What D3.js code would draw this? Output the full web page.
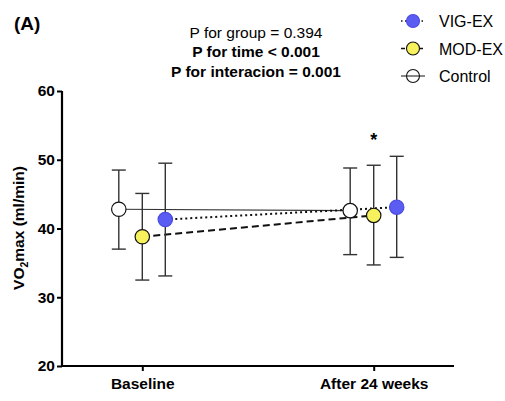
<!DOCTYPE html>
<html><head><meta charset="utf-8">
<script src="https://cdn.jsdelivr.net/npm/d3@7"></script>
<style>body{margin:0;background:#fff}svg{display:block}text{font-family:"Liberation Sans",Arial,sans-serif}</style>
</head><body><svg id="c" width="505" height="401"></svg>
<script>
const categories = ["Baseline", "After 24 weeks"];
const groups = ["Control", "MOD-EX", "VIG-EX"];
const controlMean = [42.8, 42.6];
const controlLow = [37.0, 36.2];
const controlHigh = [48.5, 48.8];
const modMean = [38.8, 41.9];
const modLow = [32.5, 34.7];
const modHigh = [45.1, 49.2];
const vigMean = [41.3, 43.1];
const vigLow = [33.1, 35.8];
const vigHigh = [49.5, 50.5];
const yTicks = [20, 30, 40, 50, 60];
const statLines = ["P for group = 0.394", "P for time < 0.001", "P for interacion = 0.001"];

const svg = d3.select("#c");
const x = d3.scalePoint().domain(categories).range([62, 454]).padding(0.347);
const y = d3.scaleLinear().domain([20, 60]).range([366, 91]);
const off = d3.scaleOrdinal().domain(groups).range([-23.5, 0, 23]);

const series = [
  {name: "Control", mean: controlMean, lo: controlLow, hi: controlHigh, fill: "#ffffff", stroke: "#111", dash: null},
  {name: "MOD-EX", mean: modMean, lo: modLow, hi: modHigh, fill: "#f6f15c", stroke: "#111", dash: "7,4"},
  {name: "VIG-EX", mean: vigMean, lo: vigLow, hi: vigHigh, fill: "#5a5cf2", stroke: "#4a4ce0", dash: "2,3"}
];

// axes
const yAxis = d3.axisLeft(y).tickValues(yTicks).tickSize(5).tickPadding(2);
const gy = svg.append("g").attr("transform", "translate(62,0)").call(yAxis);
const xAxis = d3.axisBottom(x).tickSize(5).tickPadding(7);
const gx = svg.append("g").attr("transform", "translate(0,366)").call(xAxis);
[gx, gy].forEach(g => {
  g.select(".domain").attr("stroke", "#000").attr("stroke-width", 2.2);
  g.selectAll(".tick line").attr("stroke", "#000").attr("stroke-width", 2);
  g.selectAll(".tick text").attr("fill", "#000").style("font-size", "15.5px").style("font-weight", "bold").style("font-family", "Liberation Sans, Arial, sans-serif");
});
gx.select(".domain").attr("d", "M62,0H454");
gy.select(".domain").attr("d", "M0,91V366");

// y label
const yl = svg.append("text").attr("transform", "translate(24,228) rotate(-90)")
  .attr("text-anchor", "middle").style("font-size", "15.5px").style("font-weight", "bold");
yl.append("tspan").text("VO");
yl.append("tspan").text("2").attr("dy", 4).style("font-size", "10.5px");
yl.append("tspan").text("max  (ml/min)").attr("dy", -4);

// connecting lines
series.forEach(s => {
  svg.append("line")
    .attr("x1", x(categories[0]) + off(s.name)).attr("y1", y(s.mean[0]))
    .attr("x2", x(categories[1]) + off(s.name)).attr("y2", y(s.mean[1]))
    .attr("stroke", s.name === "Control" ? "#333" : "#111")
    .attr("stroke-width", s.name === "Control" ? 1.2 : 2)
    .attr("stroke-dasharray", s.dash);
});

// error bars
series.forEach(s => {
  categories.forEach((c, i) => {
    const cx = x(c) + off(s.name);
    const g = svg.append("g").attr("stroke", "#333").attr("stroke-width", 1.4);
    g.append("line").attr("x1", cx).attr("x2", cx).attr("y1", y(s.lo[i])).attr("y2", y(s.hi[i]));
    g.append("line").attr("x1", cx - 7).attr("x2", cx + 7).attr("y1", y(s.lo[i])).attr("y2", y(s.lo[i]));
    g.append("line").attr("x1", cx - 7).attr("x2", cx + 7).attr("y1", y(s.hi[i])).attr("y2", y(s.hi[i]));
  });
});

// markers
series.forEach(s => {
  categories.forEach((c, i) => {
    svg.append("circle").attr("cx", x(c) + off(s.name)).attr("cy", y(s.mean[i])).attr("r", 7.2)
      .attr("fill", s.fill).attr("stroke", s.stroke).attr("stroke-width", 1.2);
  });
});

// star
svg.append("text").attr("x", x(categories[1]) + off("MOD-EX")).attr("y", 146).attr("text-anchor", "middle")
  .style("font-size", "18px").style("font-weight", "bold").text("*");

// panel label
svg.append("text").attr("x", 14).attr("y", 30).style("font-size", "19px").style("font-weight", "bold").text("(A)");

// stats text
statLines.forEach((t, i) => {
  svg.append("text").attr("x", 256).attr("y", 37.5 + i * 19.5).attr("text-anchor", "middle")
    .style("font-size", "15.5px").style("font-weight", i === 0 ? "normal" : "bold").text(t);
});

// legend
const legendOrder = [series[2], series[1], series[0]];
legendOrder.forEach((s, i) => {
  const ly = 21 + i * 27.5, lx = 413;
  const g = svg.append("g");
  if (s.name === "Control") {
    g.append("line").attr("x1", lx - 12).attr("x2", lx + 12).attr("y1", ly).attr("y2", ly).attr("stroke", "#111").attr("stroke-width", 1);
  } else {
    g.append("line").attr("x1", lx - 12).attr("x2", lx + 12).attr("y1", ly).attr("y2", ly)
      .attr("stroke", "#111").attr("stroke-width", 1.6).attr("stroke-dasharray", s.name === "MOD-EX" ? "4,14" : "1.5,2.5,1.5,15");
  }
  g.append("circle").attr("cx", lx).attr("cy", ly).attr("r", 6.5)
    .attr("fill", s.name === "Control" ? "none" : s.fill).attr("stroke", s.stroke).attr("stroke-width", 1.1);
  g.append("text").attr("x", 439).attr("y", ly + 6).style("font-size", "16px").text(s.name);
});
</script></body></html>
